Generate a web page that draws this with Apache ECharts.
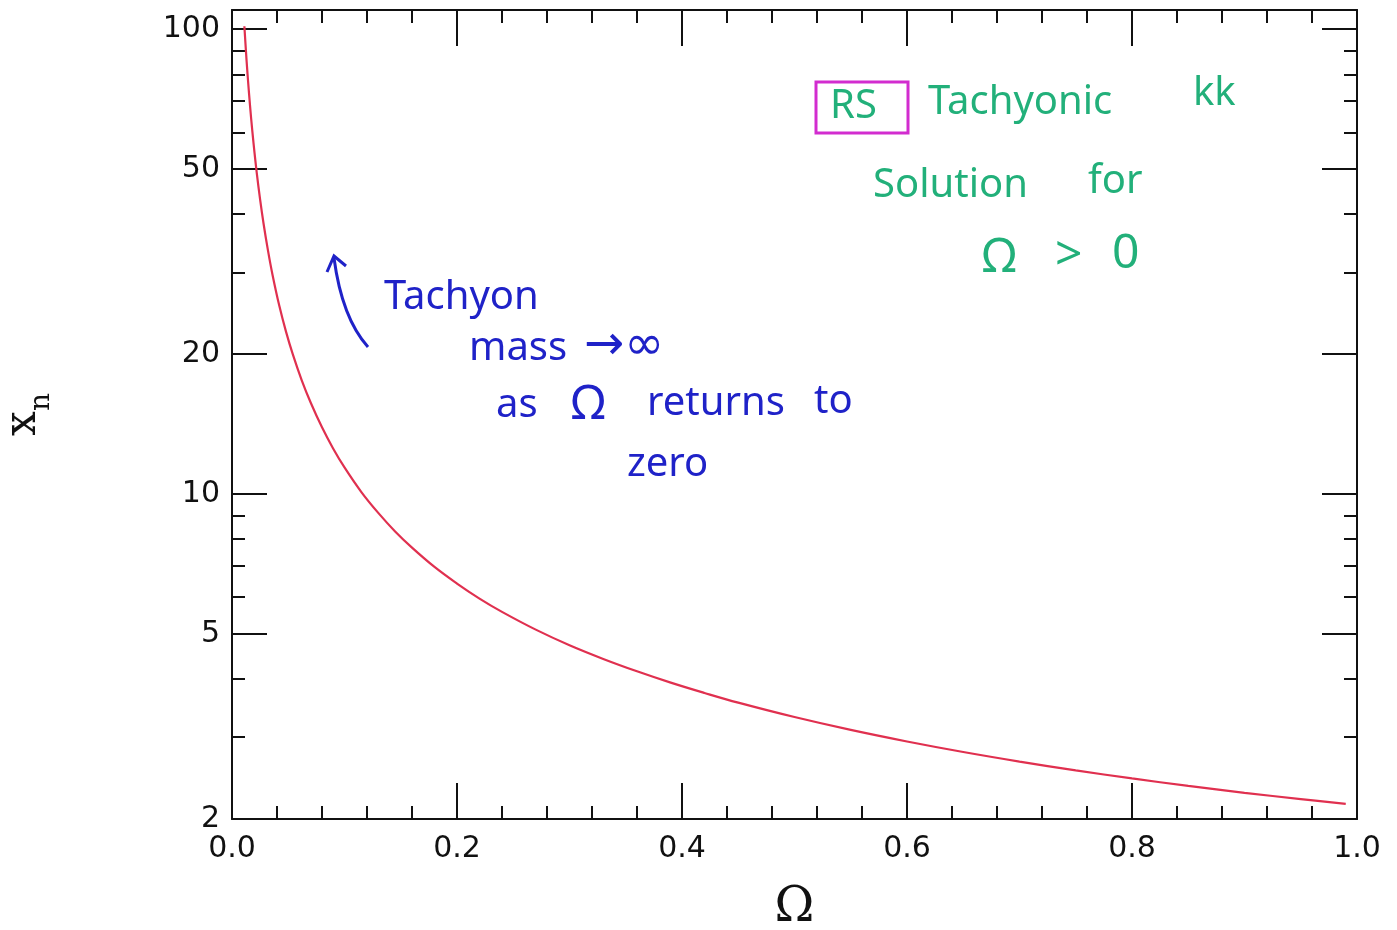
<!DOCTYPE html>
<html>
<head>
<meta charset="utf-8">
<script src="https://cdn.jsdelivr.net/npm/echarts@6/dist/echarts.min.js"></script>
<style>
  html, body { margin: 0; padding: 0; background: #ffffff; }
  #chart { width: 1397px; height: 930px; }
</style>
</head>
<body>
<div id="chart"></div>
<script>
// Tachyonic KK root x_n as a function of Omega (RS model, Omega > 0)
const omega = [0.011, 0.013, 0.015, 0.017, 0.019, 0.022, 0.025, 0.028, 0.032, 0.036,
               0.042, 0.048, 0.054, 0.062, 0.070, 0.080, 0.090, 0.100, 0.115, 0.130,
               0.145, 0.160, 0.180, 0.200, 0.220, 0.240, 0.270, 0.300, 0.330, 0.360,
               0.390, 0.420, 0.450, 0.500, 0.550, 0.600, 0.650, 0.700, 0.750, 0.800,
               0.850, 0.900, 0.950, 0.990];
const xn    = [101.5, 85.3, 73.4, 64.35, 57.3, 49.1, 43.0, 38.25, 33.4, 29.65,
               25.44, 22.36, 20.0, 17.57, 15.72, 13.92, 12.52, 11.41, 10.1, 9.11,
               8.31, 7.67, 6.97, 6.42, 5.96, 5.58, 5.11, 4.73, 4.42, 4.157,
               3.93, 3.734, 3.559, 3.314, 3.109, 2.936, 2.787, 2.658, 2.544, 2.445,
               2.356, 2.277, 2.207, 2.155];

// Axis tick positions
const yMajorTicks = [2, 5, 10, 20, 50, 100];
const yMinorTicks = [3, 4, 6, 7, 8, 9, 30, 40, 60, 70, 80, 90];
const xRange = [0, 1];
const xMajorStep = 0.2;
const yRange = [2, 110];

const INK = '#111111';
const tickLine = { color: INK, width: 2 };
const labelFont = 'DejaVu Sans';

function yAxis(position, ticks, len, withLabels, withLine) {
  return {
    type: 'log', logBase: 10, min: yRange[0], max: yRange[1], position: position,
    axisLine: { show: withLine, lineStyle: { color: INK, width: 2 } },
    axisTick: { show: true, inside: true, length: len, customValues: ticks, lineStyle: tickLine },
    axisLabel: withLabels ? {
      show: true, customValues: ticks, margin: 12,
      fontFamily: labelFont, fontSize: 30, color: INK,
      formatter: v => String(Math.round(v))
    } : { show: false },
    splitLine: { show: false },
    minorTick: { show: false },
    minorSplitLine: { show: false }
  };
}

function xAxis(position, withLabels) {
  return {
    type: 'value', min: xRange[0], max: xRange[1], interval: xMajorStep, position: position,
    axisLine: { show: true, onZero: false, lineStyle: { color: INK, width: 2 } },
    axisTick: { show: true, inside: true, length: 36, lineStyle: tickLine },
    minorTick: { show: true, splitNumber: 5, length: 13, lineStyle: tickLine },
    axisLabel: withLabels ? {
      show: true, margin: 15, fontFamily: labelFont, fontSize: 30, color: INK,
      formatter: v => v.toFixed(1)
    } : { show: false },
    splitLine: { show: false },
    minorSplitLine: { show: false }
  };
}

const bottomX = xAxis('bottom', true);
bottomX.name = 'Ω';
bottomX.nameLocation = 'middle';
bottomX.nameGap = 66;
bottomX.nameTextStyle = { fontFamily: 'DejaVu Serif', fontSize: 48, color: INK };

const leftY = yAxis('left', yMajorTicks, 35, true, true);
leftY.name = '{x|x}{n|n}';
leftY.nameLocation = 'middle';
leftY.nameGap = 176;
leftY.nameTextStyle = {
  rich: {
    x: { fontFamily: 'DejaVu Serif', fontSize: 44, lineHeight: 64, color: INK },
    n: { fontFamily: 'DejaVu Serif', fontSize: 28, lineHeight: 28, verticalAlign: 'bottom', color: INK }
  }
};

const GREEN = '#22b07a';
const BLUE = '#1f22c8';
const MAGENTA = '#d22ccf';
const noteFont = '"Noto Sans"';

function note(text, x, y, color, size, family) {
  return {
    type: 'text', x: x, y: y, silent: true,
    style: {
      text: text, fill: color, font: (size || 40) + 'px ' + (family || noteFont),
      align: 'left', verticalAlign: 'middle',
      textAlign: 'left', textVerticalAlign: 'middle'
    }
  };
}

const chart = echarts.init(document.getElementById('chart'), null, { renderer: 'canvas' });
chart.setOption({
  backgroundColor: '#ffffff',
  animation: false,
  grid: { left: 232, right: 40, top: 10, bottom: 111, containLabel: false, outerBoundsMode: 'none' },
  xAxis: [bottomX, xAxis('top', false)],
  yAxis: [
    leftY,
    yAxis('left', yMinorTicks, 13, false, false),
    yAxis('right', yMajorTicks, 35, false, true),
    yAxis('right', yMinorTicks, 13, false, false)
  ],
  series: [{
    type: 'line',
    xAxisIndex: 0, yAxisIndex: 0,
    data: omega.map((w, i) => [w, xn[i]]),
    smooth: 0.4,
    showSymbol: false,
    lineStyle: { color: '#e0304f', width: 2.2 },
    clip: true
  }],
  graphic: [
    // boxed "RS" tag
    { type: 'rect', shape: { x: 816, y: 82, width: 92, height: 51 },
      style: { fill: 'none', stroke: MAGENTA, lineWidth: 3 }, silent: true },
    note('RS', 830, 107, GREEN, 40),
    note('Tachyonic', 928, 103, GREEN, 40),
    note('kk', 1193, 94, GREEN, 40),
    note('Solution', 873, 186, GREEN, 40),
    note('for', 1088, 182, GREEN, 40),
    note('Ω', 982, 258, GREEN, 48),
    note('>', 1055, 256, GREEN, 48),
    note('0', 1112, 254, GREEN, 48),
    // upward arrow beside the curve
    { type: 'bezierCurve', silent: true,
      shape: { x1: 368, y1: 347, cpx1: 342, cpy1: 318, x2: 334, y2: 258 },
      style: { stroke: BLUE, lineWidth: 3, fill: 'none' } },
    { type: 'polyline', silent: true,
      shape: { points: [[327, 272], [334, 256], [346, 266]] },
      style: { stroke: BLUE, lineWidth: 3, fill: 'none' } },
    note('Tachyon', 384, 298, BLUE, 40),
    note('mass', 469, 349, BLUE, 40),
    note('→∞', 584, 347, BLUE, 48, '"DejaVu Sans"'),
    note('as', 496, 406, BLUE, 40),
    note('Ω', 571, 405, BLUE, 48),
    note('returns', 647, 404, BLUE, 40),
    note('to', 814, 402, BLUE, 40),
    note('zero', 627, 465, BLUE, 40)
  ]
});
</script>
</body>
</html>
